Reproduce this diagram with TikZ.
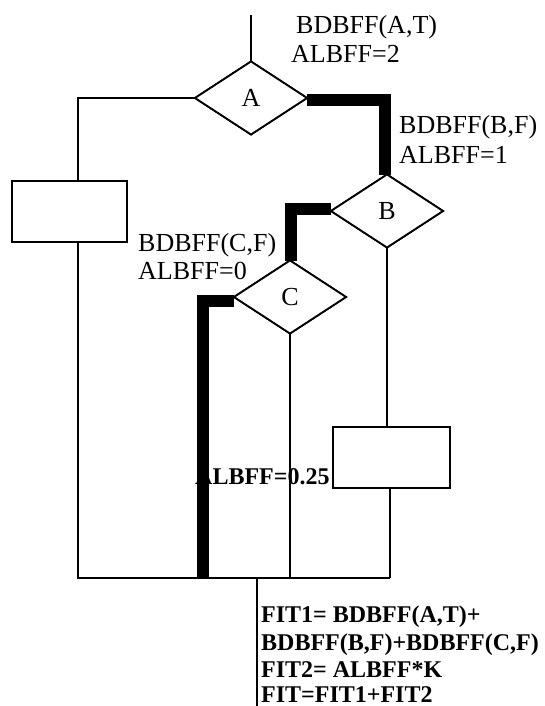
\documentclass[tikz,border=0pt]{standalone}
\usepackage{fontspec}
\setmainfont{Liberation Serif}
\usetikzlibrary{shapes.geometric}
\tikzset{
  dec/.style={draw, shape=diamond, fill=white, line width=1.8pt, inner sep=0pt, outer sep=0pt,
    minimum width=112pt, minimum height=73pt, font=\fontsize{26}{30}\selectfont},
  blk/.style={draw, rectangle, fill=white, line width=2pt, inner sep=0pt, outer sep=0pt},
  thin/.style={line width=1.2pt},
  taken/.style={line width=12pt, line join=miter},
  lbl/.style={anchor=base west, inner sep=0pt, font=\fontsize{26}{30}\selectfont},
  blbl/.style={anchor=base west, inner sep=0pt, font=\fontsize{24}{28}\selectfont\bfseries}
}
\begin{document}
\begin{tikzpicture}[x=1pt,y=-1pt]
\useasboundingbox (0,0) rectangle (545,706);

% junction points
\coordinate (top) at (251,15);
\coordinate (aL) at (78,98);
\coordinate (bl) at (78,578);
\coordinate (br) at (390,578);
\coordinate (ab) at (385,100);
\coordinate (bc) at (291,209);
\coordinate (cT) at (203,301);
\coordinate (out1) at (257,578);
\coordinate (out2) at (257,706);

% decision nodes and blocks (positions only, drawn again on top later)
\path node[dec] (A) at (251,98) {A}
      node[dec] (B) at (387,211) {B}
      node[dec] (C) at (290,297) {C};
\node[blk, minimum width=115pt, minimum height=61pt] (box1) at (69.5,211.5) {};
\node[blk, minimum width=117pt, minimum height=61pt] (box2) at (391.5,457.5) {};

% label under the thick path
\node[blbl] (l25) at (195,484) {ALBFF=0.25};

% thin connectors
\draw[thin] (top) -- (A.north);
\draw[thin] (A.west) -- (aL) -- (box1.north -| aL);
\draw[thin] (box1.south -| aL) -- (bl) -- (br);
\draw[thin] (B.south) -- (box2.north -| B.south);
\draw[thin] (box2.south -| br) -- (br);
\draw[thin] (C.south) -- (C.south |- bl);
\draw[thin] (out1) -- (out2);

% thick path through the taken branches
\draw[taken] (A.east |- ab) -- (ab) -- (ab |- B.north);
\draw[taken] (B.west |- bc) -- (bc) -- (bc |- C.north);
\draw[taken] (C.west |- cT) -- (cT) -- (cT |- bl);

% redraw diamonds and blocks on top
\node[dec] at (A) {A};
\node[dec] at (B) {B};
\node[dec] at (C) {C};
\node[blk, minimum width=115pt, minimum height=61pt] at (box1) {};
\node[blk, minimum width=117pt, minimum height=61pt] at (box2) {};

% branch labels
\node[lbl] (tA1) at (296,34) {BDBFF(A,T)};
\node[lbl] (tA2) at (291,63) {ALBFF=2};
\node[lbl] (tB1) at (399,133) {BDBFF(B,F)};
\node[lbl] (tB2) at (399,163) {ALBFF=1};
\node[lbl] (tC1) at (138,251) {BDBFF(C,F)};
\node[lbl] (tC2) at (138,279) {ALBFF=0};

% fitness formulas
\node[blbl] (f1) at (261,622) {FIT1= BDBFF(A,T)+};
\node[blbl] (f2) at (261,650) {BDBFF(B,F)+BDBFF(C,F)};
\node[blbl] (f3) at (261,677) {FIT2= ALBFF*K};
\node[blbl] (f4) at (261,702) {FIT=FIT1+FIT2};
\end{tikzpicture}
\end{document}
